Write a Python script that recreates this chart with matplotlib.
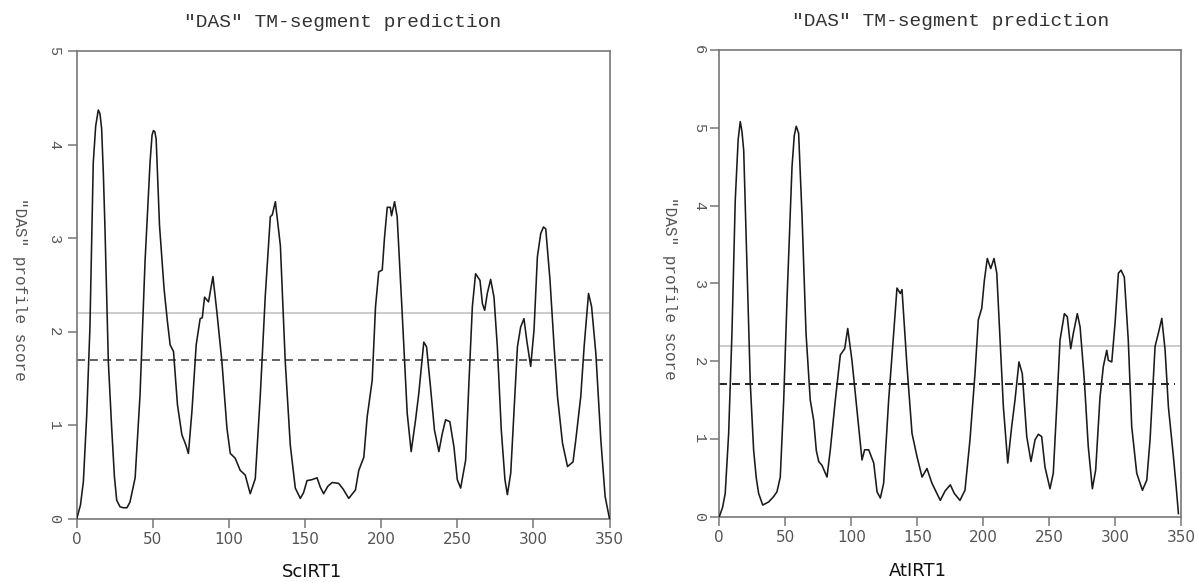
import matplotlib
matplotlib.use("Agg")
import matplotlib.pyplot as plt

# ---------------- data ----------------
sc_pos = [0, 2.5, 4.4, 6.6, 8.7, 10.9, 12.5, 14.2, 15.3, 16.4, 17.5, 18.6, 20.8, 23, 24.8, 26.3,
          28.5, 30.7, 33, 35, 38.4, 41.6, 44.9, 48.2, 49.5, 50.4, 51.3, 52.2, 54.4, 57.4, 59.6,
          61.4, 63.6, 66.2, 69.1, 71.5, 73.4, 75.7, 78.5, 81.1, 82.5, 84, 86.6, 88, 89.5, 92.1,
          95.4, 98.7, 100.9, 104.1, 107.4, 110.7, 114, 117.3, 120.6, 123.9, 127.2, 128.5, 130.5,
          133.8, 137, 140.3, 143.6, 146.9, 149, 151.3, 154.5, 157.9, 160, 162.2, 165, 167.8,
          172.1, 175, 178.7, 183.1, 185.3, 188.6, 190.8, 194.1, 196.3, 198.4, 200.7, 202.2, 204,
          206, 206.8, 208.8, 210.5, 213.8, 217.1, 219.7, 222.6, 224.7, 228, 229.8, 232.4, 235,
          237.9, 240.1, 242.3, 245.1, 247.8, 250, 252.2, 255.5, 257.7, 259.9, 262, 264.9, 266.5,
          268, 269.7, 271.9, 274.1, 276.3, 278.9, 281.3, 282.9, 285.1, 287.2, 289.5, 291.6,
          293.8, 295.6, 298.2, 300.4, 302.6, 304.8, 306.6, 308.1, 310.9, 313.6, 315.8, 319.1,
          322.4, 324.5, 326, 327.8, 331.1, 333.3, 336.2, 338.2, 341, 344.3, 347.1, 350]
sc_score = [0, 0.15, 0.40, 1.11, 2.04, 3.81, 4.20, 4.37, 4.33, 4.17, 3.70, 3.10, 1.68, 0.97, 0.45,
            0.20, 0.13, 0.12, 0.12, 0.18, 0.44, 1.32, 2.75, 3.81, 4.10, 4.15, 4.14, 4.06, 3.14,
            2.46, 2.11, 1.86, 1.79, 1.22, 0.90, 0.80, 0.70, 1.15, 1.86, 2.14, 2.15, 2.37, 2.32,
            2.45, 2.59, 2.21, 1.68, 0.97, 0.70, 0.65, 0.52, 0.47, 0.27, 0.43, 1.32, 2.39, 3.23,
            3.25, 3.39, 2.92, 1.68, 0.79, 0.33, 0.22, 0.28, 0.41, 0.42, 0.44, 0.34, 0.27, 0.35,
            0.39, 0.38, 0.32, 0.22, 0.31, 0.52, 0.66, 1.09, 1.48, 2.27, 2.64, 2.66, 3.01, 3.33,
            3.33, 3.24, 3.39, 3.23, 2.20, 1.13, 0.72, 1.06, 1.34, 1.89, 1.84, 1.41, 0.95, 0.72,
            0.91, 1.06, 1.04, 0.77, 0.42, 0.33, 0.63, 1.48, 2.27, 2.62, 2.55, 2.30, 2.23, 2.41,
            2.56, 2.37, 1.84, 0.95, 0.42, 0.26, 0.49, 1.13, 1.84, 2.05, 2.14, 1.91, 1.63, 2.02,
            2.80, 3.05, 3.12, 3.10, 2.55, 1.84, 1.31, 0.81, 0.56, 0.59, 0.61, 0.84, 1.31, 1.84,
            2.41, 2.27, 1.77, 0.84, 0.24, 0]

at_pos = [0, 2.5, 4.5, 7.1, 9.6, 12.1, 14.3, 15.9, 17.2, 18.5, 21, 23.5, 26, 28, 29.8, 32.9,
          37.4, 41.2, 43.7, 46.2, 48.8, 51.3, 55.1, 56.8, 58.3, 60.1, 62.7, 65.7, 68.9, 71.5,
          73.5, 75.3, 77.8, 81.6, 84.1, 87.9, 91.7, 95, 97.3, 100.5, 104.3, 108.1, 110.1, 113.2,
          117, 119.5, 122, 124.5, 128.3, 132.1, 134.6, 137.1, 138.4, 142.2, 146, 149.8, 153.6,
          157.3, 161.1, 167.4, 171, 175, 178, 182.3, 186.1, 189.9, 193.7, 196.2, 198.8, 200.8,
          203, 205.6, 208.1, 210.2, 212.7, 215.2, 218.5, 221.5, 224, 227, 229.5, 232.9, 236.1,
          239.2, 241.7, 244.2, 246.7, 250.5, 253, 255.6, 258.1, 261.4, 263.6, 266.2, 268.2,
          271.2, 273.3, 276.5, 279.5, 282.6, 285.1, 288.4, 290.9, 293.5, 294.7, 297.3, 299.8,
          302.3, 304.3, 306.8, 309.8, 312.4, 316.2, 320.5, 323.8, 326.3, 330.1, 332.6, 335.2,
          337.7, 340.2, 344, 346, 347.8]
at_score = [0, 0.12, 0.30, 1.07, 2.36, 4.07, 4.85, 5.08, 4.95, 4.71, 3.21, 1.71, 0.86, 0.50,
            0.30, 0.15, 0.19, 0.26, 0.32, 0.51, 1.50, 2.79, 4.50, 4.90, 5.02, 4.93, 3.86, 2.36,
            1.50, 1.24, 0.85, 0.71, 0.66, 0.51, 0.86, 1.50, 2.08, 2.16, 2.42, 2.01, 1.37, 0.73,
            0.86, 0.86, 0.69, 0.32, 0.24, 0.43, 1.50, 2.36, 2.94, 2.87, 2.92, 1.93, 1.07, 0.77,
            0.51, 0.62, 0.43, 0.21, 0.33, 0.41, 0.30, 0.21, 0.34, 0.99, 1.84, 2.53, 2.68, 3.04,
            3.32, 3.19, 3.32, 3.13, 2.27, 1.41, 0.69, 1.16, 1.50, 1.99, 1.84, 1.03, 0.71, 0.99,
            1.06, 1.03, 0.64, 0.36, 0.56, 1.41, 2.27, 2.61, 2.57, 2.16, 2.36, 2.61, 2.44, 1.76,
            0.90, 0.36, 0.60, 1.54, 1.93, 2.14, 2.01, 1.99, 2.49, 3.13, 3.17, 3.08, 2.27, 1.16,
            0.56, 0.34, 0.47, 0.99, 2.19, 2.36, 2.55, 2.14, 1.41, 0.77, 0.40, 0.04]

loose_cutoff = 1.7
strict_cutoff = 2.2
x_ticks = [0, 50, 100, 150, 200, 250, 300, 350]
title_text = '"DAS" TM-segment prediction'
ylabel_text = '"DAS" profile score'
names = ["ScIRT1", "AtIRT1"]

# ---------------- drawing ----------------
MONO = "Liberation Mono"
SPINE = "#777777"

fig = plt.figure(figsize=(11.98, 5.83), dpi=100)
ax1 = fig.add_axes([0.0640, 0.1098, 0.4448, 0.8027])
ax2 = fig.add_axes([0.6004, 0.1137, 0.3857, 0.8005])

configs = [
    (ax1, sc_pos, sc_score, 5, names[0], 0.4416, -0.123, 10.0, "#555555"),
    (ax2, at_pos, at_score, 6, names[1], 0.430, -0.128, 8.4, "#111111"),
]

for ax, xs, ys, ymax, name, xlab_x, xlab_y, ypad, dash_col in configs:
    ax.plot(xs, ys, color="#1a1a1a", lw=1.15, zorder=3)
    ax.hlines(strict_cutoff, 0, 350, color="#cccccc", lw=1.4, zorder=1)
    ax.hlines(loose_cutoff, 0, 345.5, color=dash_col, lw=1.3,
              linestyles=[(0, (4.4, 2.8))], zorder=2)
    ax.set_xlim(0, 350)
    ax.set_ylim(0, ymax)
    ax.set_xticks(x_ticks)
    ax.set_yticks(range(0, ymax + 1))
    for s in ax.spines.values():
        s.set_color(SPINE)
        s.set_linewidth(1.2)
    ax.tick_params(axis="both", direction="out", length=6.2, width=1.1, color=SPINE)
    ax.tick_params(axis="x", pad=3.5, labelsize=11, labelcolor="#555555")
    ax.tick_params(axis="y", pad=ypad, labelsize=11, labelcolor="#555555")
    for lab in ax.get_xticklabels():
        lab.set_family("DejaVu Sans")
    for lab in ax.get_yticklabels():
        lab.set_family(MONO)
        lab.set_rotation(-90)
        lab.set_ha("center")
        lab.set_va("center")
    ax.set_title(title_text, family=MONO, fontsize=14, color="#333333", pad=17)
    ax.set_ylabel(ylabel_text, family=MONO, fontsize=11.5, color="#555555",
                  rotation=-90, ha="center", va="center", rotation_mode="anchor")
    ax.yaxis.set_label_coords(-0.108, 0.49)
    ax.set_xlabel(name, family="DejaVu Sans", fontsize=13, color="#111111",
                  va="baseline")
    ax.xaxis.set_label_coords(xlab_x, xlab_y)

fig.savefig("out.png", dpi=100)
